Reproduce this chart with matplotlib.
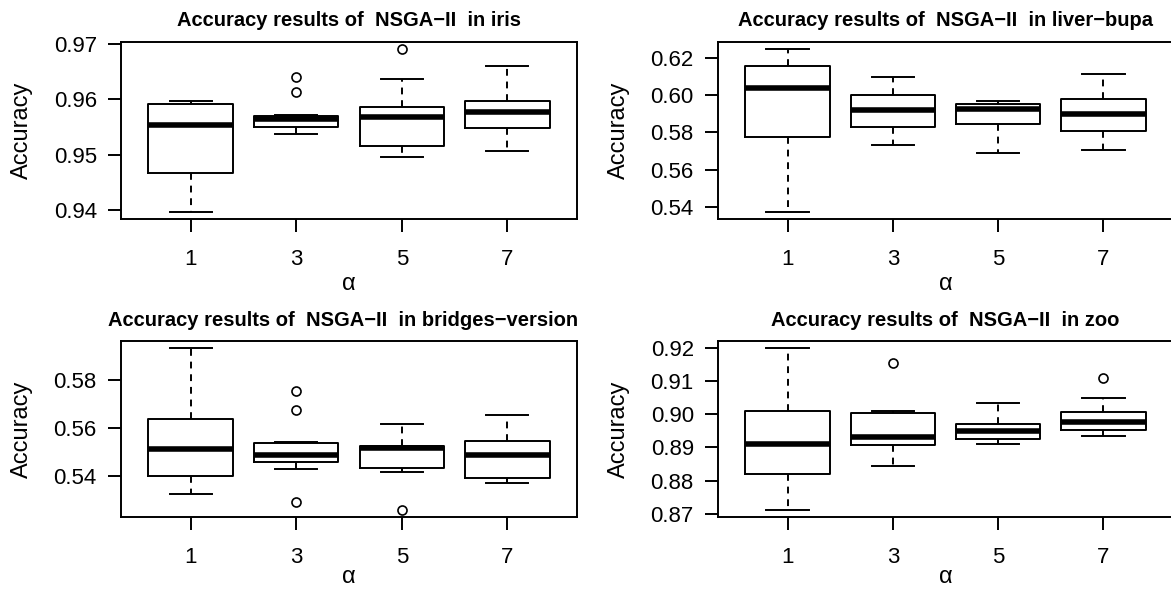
import matplotlib
matplotlib.use("Agg")
import matplotlib.pyplot as plt
from matplotlib import transforms
from matplotlib.transforms import Bbox, TransformedBbox

plt.rcParams['font.family'] = ['Liberation Sans', 'DejaVu Sans']

# ---------------- data ----------------
alpha_labels = ['1', '3', '5', '7']
dataset_names = ['iris', 'liver−bupa', 'bridges−version1', 'zoo']

iris_whislo = [0.9396, 0.9538, 0.9496, 0.9506]
iris_q1     = [0.9467, 0.9549, 0.9515, 0.9548]
iris_med    = [0.9553, 0.9564, 0.9567, 0.9577]
iris_q3     = [0.9591, 0.9570, 0.9585, 0.9596]
iris_whishi = [0.9596, 0.9571, 0.9637, 0.9660]
iris_fliers = [[], [0.9640, 0.9612], [0.9691], []]
iris_yticks = [0.94, 0.95, 0.96, 0.97]

liver_whislo = [0.5370, 0.5730, 0.5691, 0.5705]
liver_q1     = [0.5775, 0.5829, 0.5843, 0.5809]
liver_med    = [0.6039, 0.5921, 0.5927, 0.5900]
liver_q3     = [0.6157, 0.6000, 0.5952, 0.5977]
liver_whishi = [0.6250, 0.6098, 0.5971, 0.6116]
liver_fliers = [[], [], [], []]
liver_yticks = [0.54, 0.56, 0.58, 0.60, 0.62]

bridges_whislo = [0.5327, 0.5430, 0.5418, 0.5372]
bridges_q1     = [0.5400, 0.5458, 0.5434, 0.5392]
bridges_med    = [0.5514, 0.5487, 0.5518, 0.5487]
bridges_q3     = [0.5636, 0.5539, 0.5524, 0.5546]
bridges_whishi = [0.5935, 0.5540, 0.5615, 0.5655]
bridges_fliers = [[], [0.5753, 0.5674, 0.5294], [0.5257], []]
bridges_yticks = [0.54, 0.56, 0.58]

zoo_whislo = [0.8710, 0.8843, 0.8909, 0.8933]
zoo_q1     = [0.8819, 0.8906, 0.8924, 0.8951]
zoo_med    = [0.8910, 0.8931, 0.8949, 0.8975]
zoo_q3     = [0.9009, 0.9004, 0.8970, 0.9005]
zoo_whishi = [0.9200, 0.9009, 0.9032, 0.9049]
zoo_fliers = [[], [0.9152], [], [0.9109]]
zoo_yticks = [0.87, 0.88, 0.89, 0.90, 0.91, 0.92]

panels = [
    (iris_whislo, iris_q1, iris_med, iris_q3, iris_whishi, iris_fliers, iris_yticks),
    (liver_whislo, liver_q1, liver_med, liver_q3, liver_whishi, liver_fliers, liver_yticks),
    (bridges_whislo, bridges_q1, bridges_med, bridges_q3, bridges_whishi, bridges_fliers, bridges_yticks),
    (zoo_whislo, zoo_q1, zoo_med, zoo_q3, zoo_whishi, zoo_fliers, zoo_yticks),
]

# ---------------- layout (pixels) ----------------
W, H = 1171, 590
axes_px = [(121, 42, 577, 219), (718, 42, 1173, 219),
           (121, 341, 577, 517), (718, 341, 1173, 517)]
xlabel_offset = [-71, -71, -66, -66]

fig = plt.figure(figsize=(W / 100, H / 100), dpi=100)

LW = 1.4
for i, (name, pdata, (x0, y0, x1, y1)) in enumerate(zip(dataset_names, panels, axes_px)):
    ax = fig.add_axes([x0 / W, 1 - y1 / H, (x1 - x0) / W, (y1 - y0) / H])
    wlo, q1, med, q3, whi, fl, yt = pdata
    stats = []
    for k in range(len(alpha_labels)):
        stats.append(dict(whislo=wlo[k], q1=q1[k], med=med[k], q3=q3[k],
                          whishi=whi[k], fliers=fl[k]))
    n = len(alpha_labels)
    pos = list(range(1, n + 1))
    ax.bxp(stats, positions=pos, widths=0.8, capwidths=0.4,
           boxprops=dict(color='black', lw=LW),
           whiskerprops=dict(color='black', lw=LW, linestyle=(0, (3.5, 3))),
           capprops=dict(color='black', lw=LW),
           medianprops=dict(color='black', lw=4.0, solid_capstyle='butt'),
           flierprops=dict(marker='o', markerfacecolor='none', markeredgecolor='black',
                           markersize=6.5, markeredgewidth=1.2))
    allv = wlo + whi + [v for f in fl for v in f]
    lo, hi = min(allv), max(allv)
    r = hi - lo
    ax.set_ylim(lo - 0.04 * r, hi + 0.04 * r)
    ax.set_xlim(0.5 - 0.04 * n, n + 0.5 + 0.04 * n)
    ax.set_xticks(pos)
    ax.set_xticklabels(alpha_labels)
    ax.set_yticks(yt)
    ax.set_yticklabels(['%.2f' % v for v in yt])
    for s in ax.spines.values():
        s.set_linewidth(LW)
    ax.tick_params(axis='both', direction='out', length=9.4, width=LW, labelsize=16)
    ax.tick_params(axis='y', pad=8)
    ax.tick_params(axis='x', pad=12)

    # title
    ttr = transforms.offset_copy(ax.transAxes, fig=fig, x=0, y=15.5, units='dots')
    t = ax.text(0.5, 1.0, 'Accuracy results of  NSGA−II  in ' + name, transform=ttr,
                ha='center', va='baseline', fontsize=14.5, fontweight='bold')
    if x0 < W / 2:
        t.set_clip_box(TransformedBbox(Bbox([[0, 0], [578.5 / W, 1]]), fig.transFigure))
        t.set_clip_on(True)

    # y label
    ytr = transforms.offset_copy(ax.transAxes, fig=fig, x=-99.5, y=0, units='dots')
    ax.text(0, 0.5, 'Accuracy', transform=ytr, rotation=90, ha='center', va='center',
            fontsize=17)
    # x label
    xtr = transforms.offset_copy(ax.transAxes, fig=fig, x=0, y=xlabel_offset[i], units='dots')
    ax.text(0.5, 0, 'α', transform=xtr, ha='center', va='baseline', fontsize=17)

fig.savefig('out.png', dpi=100)
